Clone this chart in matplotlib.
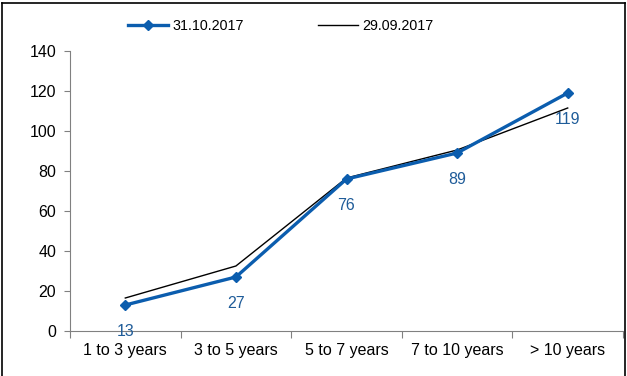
import numpy as np
import matplotlib.pyplot as plt
from matplotlib.lines import Line2D

plt.rcParams['font.family'] = ['Liberation Sans', 'DejaVu Sans']

categories = ['1 to 3 years', '3 to 5 years', '5 to 7 years', '7 to 10 years', '> 10 years']
oct_2017 = [13, 27, 76, 89, 119]
sep_2017 = [16.5, 32.5, 76.5, 90.5, 111.5]
oct_labels = ['13', '27', '76', '89', '119']

W, H = 627, 376
fs = 11.5
fig = plt.figure(figsize=(W / 100, H / 100), dpi=100)
ax = fig.add_axes([70 / W, 45 / H, 553 / W, 280 / H])

x = np.arange(len(categories))
blue = '#0B5DAE'
ax.plot(x, sep_2017, color='black', linewidth=1.0, label='29.09.2017', zorder=2)
ax.plot(x, oct_2017, color=blue, linewidth=2.4, marker='D', markersize=5.5,
        label='31.10.2017', zorder=3)

for xi, v, s in zip(x, oct_2017, oct_labels):
    ax.annotate(s, (xi, v), xytext=(0, -19), textcoords='offset points',
                ha='center', va='center', fontsize=fs, color='#1F5C99')

ax.set_xlim(-0.5, len(categories) - 0.5)
ax.set_ylim(0, 140)
ax.set_yticks(range(0, 141, 20))
ax.set_xticks(np.arange(-0.5, len(categories), 1.0))
ax.set_xticklabels([])
ax.set_xticks(x, minor=True)
ax.set_xticklabels(categories, minor=True)
ax.tick_params(axis='x', which='minor', length=0, pad=9, labelsize=fs)
ax.tick_params(axis='x', which='major', length=5, color='#808080')
ax.tick_params(axis='y', length=4, color='#808080', labelsize=fs, pad=6)
for side in ['top', 'right']:
    ax.spines[side].set_visible(False)
for side in ['left', 'bottom']:
    ax.spines[side].set_color('#808080')

handles, labels = ax.get_legend_handles_labels()
fig.legend(handles[::-1], labels[::-1], loc='center left',
           bbox_to_anchor=(128 / W, 1 - 26 / H), borderaxespad=0, borderpad=0,
           ncol=2, frameon=False, fontsize=10.3, handlelength=2.8, columnspacing=5.2,
           handletextpad=0.28)

# outer frame
lw = 1.2
fig.add_artist(Line2D([2 / W, 2 / W], [0, 1 - 3 / H], color='black', linewidth=lw))
fig.add_artist(Line2D([2 / W, 625 / W], [1 - 3 / H, 1 - 3 / H], color='black', linewidth=lw))
fig.add_artist(Line2D([625 / W, 625 / W], [0, 1 - 3 / H], color='black', linewidth=lw))

fig.savefig('out.png', dpi=100)
